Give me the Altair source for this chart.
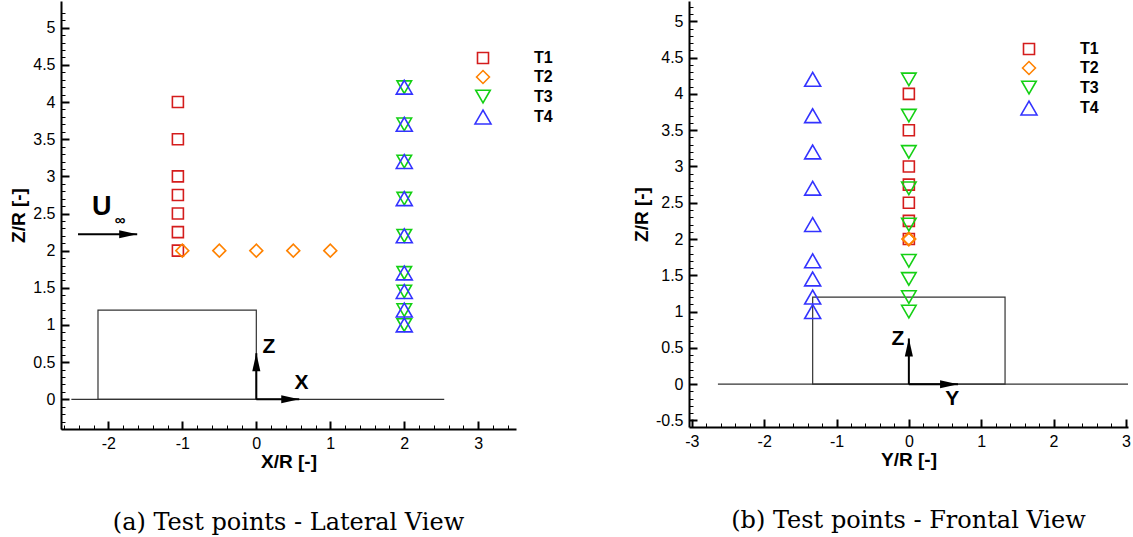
import altair as alt
import pandas as pd

# ---------------- data ----------------
series = ["T1", "T2", "T3", "T4"]
colors = ["#d41c1c", "#ff8200", "#14d014", "#3333ff"]
shapes = ["square", "diamond", "triangle-down", "triangle-up"]
sizes = [121, 256, 210, 210]

t1_x = [-1.06, -1.06, -1.06, -1.06, -1.06, -1.06, -1.06]
t1_y = [0, 0, 0, 0, 0, 0, 0]
t1_z = [2.0, 2.25, 2.5, 2.75, 3.0, 3.5, 4.0]

t2_x = [-1.0, -0.5, 0.0, 0.5, 1.0]
t2_y = [0, 0, 0, 0, 0]
t2_z = [2.0, 2.0, 2.0, 2.0, 2.0]

t3_x = [2, 2, 2, 2, 2, 2, 2, 2, 2]
t3_y = [0, 0, 0, 0, 0, 0, 0, 0, 0]
t3_z = [1.0, 1.2, 1.45, 1.7, 2.2, 2.7, 3.2, 3.7, 4.2]

t4_x = [2, 2, 2, 2, 2, 2, 2, 2, 2]
t4_y = [-1.33, -1.33, -1.33, -1.33, -1.33, -1.33, -1.33, -1.33, -1.33]
t4_z = [1.0, 1.2, 1.45, 1.7, 2.2, 2.7, 3.2, 3.7, 4.2]

lat_box_h = [-2.14, 0.0]
lat_box_z = [0.0, 1.2]
lat_ground_h = [-2.5, 2.54]
front_box_h = [-1.33, 1.33]
front_box_z = [0.0, 1.2]
front_ground_h = [-2.64, 3.03]

lat_arrow_h0 = [0.0, 0.0, -2.41]
lat_arrow_z0 = [0.0, 0.0, 2.22]
lat_arrow_h1 = [0.0, 0.58, -1.61]
lat_arrow_z1 = [0.62, 0.0, 2.22]
lat_arrow_dir = ["up", "right", "right"]

front_arrow_h0 = [0.0, 0.0]
front_arrow_z0 = [0.0, 0.0]
front_arrow_h1 = [0.0, 0.68]
front_arrow_z1 = [0.63, 0.0]
front_arrow_dir = ["up", "right"]

lat_label_text = ["Z", "X"]
lat_label_h = [0.17, 0.61]
lat_label_z = [0.71, 0.22]
u_text = ["U"]
u_h = [-2.09]
u_z = [2.59]
inf_text = ["\u221e"]
inf_h = [-1.84]
inf_z = [2.41]

front_label_text = ["Z", "Y"]
front_label_h = [-0.15, 0.60]
front_label_z = [0.62, -0.21]

lat_h_domain = [-2.64, 3.51]
lat_z_domain = [-0.40, 5.36]
lat_h_major = [-2, -1, 0, 1, 2, 3]
lat_z_major = [0, 0.5, 1, 1.5, 2, 2.5, 3, 3.5, 4, 4.5, 5]
front_h_domain = [-3.04, 3.03]
front_z_domain = [-0.59, 5.28]
front_h_major = [-3, -2, -1, 0, 1, 2, 3]
front_z_major = [-0.5, 0, 0.5, 1, 1.5, 2, 2.5, 3, 3.5, 4, 4.5, 5]


def minor_ticks(lo, hi, step, major_step):
    out = []
    n = int(round((hi - lo) / step))
    for i in range(n + 1):
        v = round(lo + i * step, 4)
        if abs(v / major_step - round(v / major_step)) > 1e-6:
            out.append(v)
    return out


lat_h_minor = minor_ticks(-2.6, 3.4, 0.2, 1.0)
lat_z_minor = minor_ticks(-0.4, 5.2, 0.1, 0.5)
front_h_minor = minor_ticks(-3.0, 3.0, 0.2, 1.0)
front_z_minor = minor_ticks(-0.5, 5.2, 0.1, 0.5)

SANS = "Liberation Sans"
SERIF = "DejaVu Serif"

UP_HEAD = "M0,0L-0.45,2L0.45,2Z"
RIGHT_HEAD = "M0,0L-2,-0.45L-2,0.45Z"


def main_axis(orient, title, values):
    return alt.Axis(orient=orient, title=title, values=values, domain=True,
                    domainColor="black", domainWidth=2, ticks=False, tickSize=0,
                    labels=True, labelFont=SANS, labelFontSize=16, labelColor="black",
                    labelPadding=6, labelFlush=False, labelOverlap=False,
                    labelExpr="'' + datum.value", titleFont=SANS,
                    titleFontSize=19, titleFontWeight="bold", titleColor="black",
                    titlePadding=(1 if orient == "bottom" else 4), grid=False)


def tick_axis(orient, values, size, width):
    # inward ticks: axis moved inside the plot by its tick length
    return alt.Axis(orient=orient, values=values, offset=-size, ticks=True, tickSize=size,
                    tickWidth=width, tickColor="black", tickOpacity=1, domain=False,
                    labels=False, title=None, grid=False, zindex=2)


def panel(hname, pts_h, box_h, box_z, ground_h, a_h0, a_z0, a_h1, a_z1, a_dir,
          lab_text, lab_h, lab_z, h_dom, z_dom, h_major, z_major, h_minor,
          z_minor, width, height, legend_x, legend_y, extra_texts, caption):
    rows = []
    for s, hs, zs in zip(series, pts_h, [t1_z, t2_z, t3_z, t4_z]):
        for h, z in zip(hs, zs):
            rows.append({"series": s, "H": h, "Z": z})
    pts = pd.DataFrame(rows)

    hs = alt.Scale(domain=h_dom, nice=False, zero=False)
    zs = alt.Scale(domain=z_dom, nice=False, zero=False)

    leg = alt.Legend(orient="none", legendX=legend_x, legendY=legend_y, title=None,
                     labelFont=SANS, labelFontSize=16, labelFontWeight="bold",
                     labelColor="black", labelOffset=42, rowPadding=0,
                     padding=0, symbolStrokeWidth=1.6)

    points = alt.Chart(pts).mark_point(filled=False, strokeWidth=1.6, opacity=1).encode(
        x=alt.X("H:Q", scale=hs, axis=main_axis("bottom", hname, h_major)),
        y=alt.Y("Z:Q", scale=zs, axis=main_axis("left", "Z/R [-]", z_major)),
        color=alt.Color("series:N", scale=alt.Scale(domain=series, range=colors), legend=leg),
        shape=alt.Shape("series:N", scale=alt.Scale(domain=series, range=shapes), legend=leg),
        size=alt.Size("series:N", scale=alt.Scale(domain=series, range=sizes), legend=leg),
    )

    box_df = pd.DataFrame({"h0": [box_h[0]], "h1": [box_h[1]],
                           "z0": [box_z[0]], "z1": [box_z[1]]})
    box = alt.Chart(box_df).mark_rect(filled=False, stroke="#333333", strokeWidth=1.2).encode(
        x=alt.X("h0:Q", scale=hs, axis=tick_axis("bottom", h_major, 8, 2)),
        x2="h1:Q",
        y=alt.Y("z0:Q", scale=zs, axis=tick_axis("left", z_major, 8, 2)),
        y2="z1:Q",
    )

    ground_df = pd.DataFrame({"h0": [ground_h[0]], "h1": [ground_h[1]], "z": [0.0]})
    ground = alt.Chart(ground_df).mark_rule(color="#333333", strokeWidth=1.2).encode(
        x=alt.X("h0:Q", scale=hs, axis=tick_axis("bottom", h_minor, 4, 1)),
        x2="h1:Q",
        y=alt.Y("z:Q", scale=zs, axis=tick_axis("left", z_minor, 4, 1)),
    )

    arr_df = pd.DataFrame({"h0": a_h0, "z0": a_z0, "h1": a_h1, "z1": a_z1, "dir": a_dir})
    shafts = alt.Chart(arr_df).mark_rule(color="black", strokeWidth=2).encode(
        x=alt.X("h0:Q", scale=hs, axis=None), x2="h1:Q",
        y=alt.Y("z0:Q", scale=zs, axis=None), y2="z1:Q",
    )
    heads_up = alt.Chart(arr_df).transform_filter("datum.dir == 'up'").mark_point(
        shape=UP_HEAD, filled=True, color="black", opacity=1, size=324, strokeWidth=0
    ).encode(x=alt.X("h1:Q", scale=hs, axis=None), y=alt.Y("z1:Q", scale=zs, axis=None))
    heads_right = alt.Chart(arr_df).transform_filter("datum.dir == 'right'").mark_point(
        shape=RIGHT_HEAD, filled=True, color="black", opacity=1, size=324, strokeWidth=0
    ).encode(x=alt.X("h1:Q", scale=hs, axis=None), y=alt.Y("z1:Q", scale=zs, axis=None))

    lab_df = pd.DataFrame({"t": lab_text, "h": lab_h, "z": lab_z})
    labels = alt.Chart(lab_df).mark_text(font=SANS, fontSize=21, fontWeight="bold",
                                         color="black").encode(
        x=alt.X("h:Q", scale=hs, axis=None), y=alt.Y("z:Q", scale=zs, axis=None), text="t:N")

    layers = [ground, box, shafts, heads_up, heads_right, points, labels]
    for txt, th, tz, fs in extra_texts:
        df = pd.DataFrame({"t": txt, "h": th, "z": tz})
        layers.append(alt.Chart(df).mark_text(font=SANS, fontSize=fs, fontWeight="bold",
                                              color="black").encode(
            x=alt.X("h:Q", scale=hs, axis=None), y=alt.Y("z:Q", scale=zs, axis=None),
            text="t:N"))

    return alt.layer(*layers).resolve_axis(x="independent", y="independent").properties(
        width=width, height=height,
        title=alt.Title(caption, orient="bottom", font=SERIF, fontSize=24,
                        fontWeight="normal", color="black", offset=40, anchor="middle"))


left = panel("X/R [-]", [t1_x, t2_x, t3_x, t4_x], lat_box_h, lat_box_z, lat_ground_h,
             lat_arrow_h0, lat_arrow_z0, lat_arrow_h1, lat_arrow_z1, lat_arrow_dir,
             lat_label_text, lat_label_h, lat_label_z,
             lat_h_domain, lat_z_domain, lat_h_major, lat_z_major,
             lat_h_minor, lat_z_minor, 455, 428, 413, 49,
             [(u_text, u_h, u_z, 27), (inf_text, inf_h, inf_z, 15)],
             "(a) Test points - Lateral View")

right = panel("Y/R [-]", [t1_y, t2_y, t3_y, t4_y], front_box_h, front_box_z, front_ground_h,
              front_arrow_h0, front_arrow_z0, front_arrow_h1, front_arrow_z1, front_arrow_dir,
              front_label_text, front_label_h, front_label_z,
              front_h_domain, front_z_domain, front_h_major, front_z_major,
              front_h_minor, front_z_minor, 439, 426, 331, 40, [],
              "(b) Test points - Frontal View")

leg_ind = dict(color="independent", shape="independent", size="independent")

chart = alt.hconcat(left, right, spacing=77).resolve_legend(**leg_ind).properties(
    padding={"left": 9, "top": 0, "right": 0, "bottom": 0},
    background="white",
).configure_view(stroke="transparent")

chart.save("out.html", embed_options={"renderer": "svg", "actions": False})
